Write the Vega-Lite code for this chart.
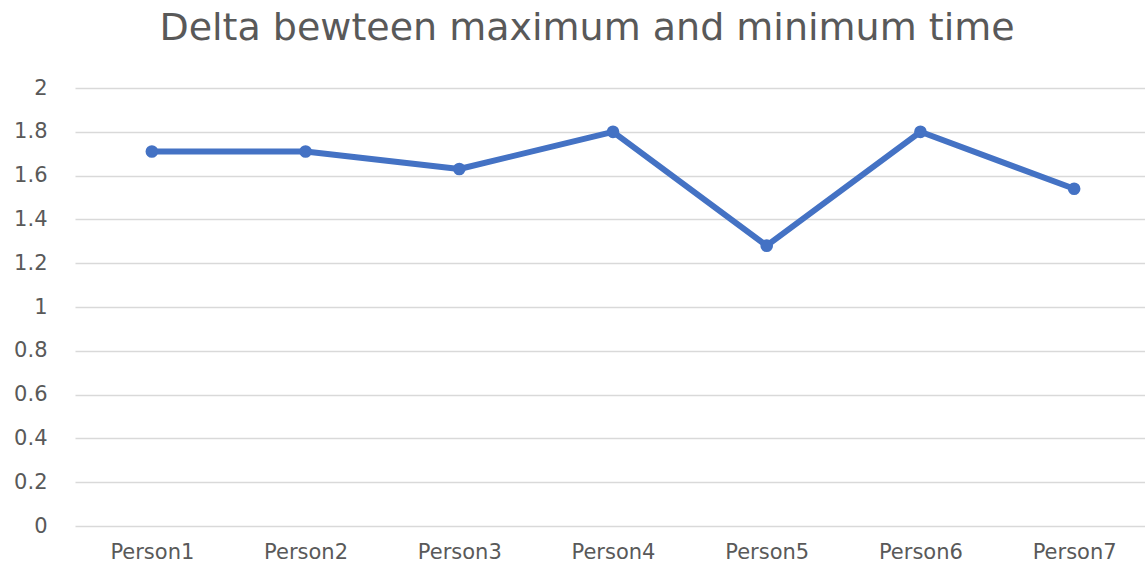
{
  "$schema": "https://vega.github.io/schema/vega-lite/v6.json",
  "autosize": {"type": "none"},
  "padding": {"left": 75, "top": 88, "right": 0, "bottom": 41},
  "width": 1076,
  "height": 438,
  "background": "white",
  "title": {
    "text": "Delta bewteen maximum and minimum time",
    "font": "DejaVu Sans",
    "fontSize": 38,
    "fontWeight": "normal",
    "color": "#595959",
    "anchor": "middle",
    "frame": "group",
    "baseline": "alphabetic",
    "offset": -1,
    "dx": -26
  },
  "data": {
    "values": [
      {"person": "Person1", "delta": 1.71},
      {"person": "Person2", "delta": 1.71},
      {"person": "Person3", "delta": 1.63},
      {"person": "Person4", "delta": 1.8},
      {"person": "Person5", "delta": 1.28},
      {"person": "Person6", "delta": 1.8},
      {"person": "Person7", "delta": 1.54}
    ]
  },
  "encoding": {
    "x": {
      "field": "person",
      "type": "nominal",
      "sort": null,
      "scale": {"type": "point", "padding": 0.5},
      "axis": {
        "title": null,
        "labelAngle": 0,
        "ticks": false,
        "domain": false,
        "grid": false,
        "labelFont": "DejaVu Sans",
        "labelFontSize": 21,
        "labelColor": "#595959",
        "labelPadding": 15
      }
    },
    "y": {
      "field": "delta",
      "type": "quantitative",
      "scale": {"domain": [0, 2], "nice": false},
      "axis": {
        "title": null,
        "values": [0, 0.2, 0.4, 0.6, 0.8, 1, 1.2, 1.4, 1.6, 1.8, 2],
        "format": ".2~f",
        "ticks": false,
        "domain": false,
        "grid": true,
        "gridColor": "#d9d9d9",
        "gridWidth": 1.3,
        "labelFont": "DejaVu Sans",
        "labelFontSize": 21,
        "labelColor": "#595959",
        "labelPadding": 28
      }
    }
  },
  "layer": [
    {
      "mark": {"type": "line", "color": "#4472C4", "strokeWidth": 6, "strokeJoin": "round"}
    },
    {
      "mark": {"type": "point", "filled": true, "opacity": 1, "color": "#4472C4", "size": 160}
    }
  ],
  "config": {"view": {"stroke": null}}
}
